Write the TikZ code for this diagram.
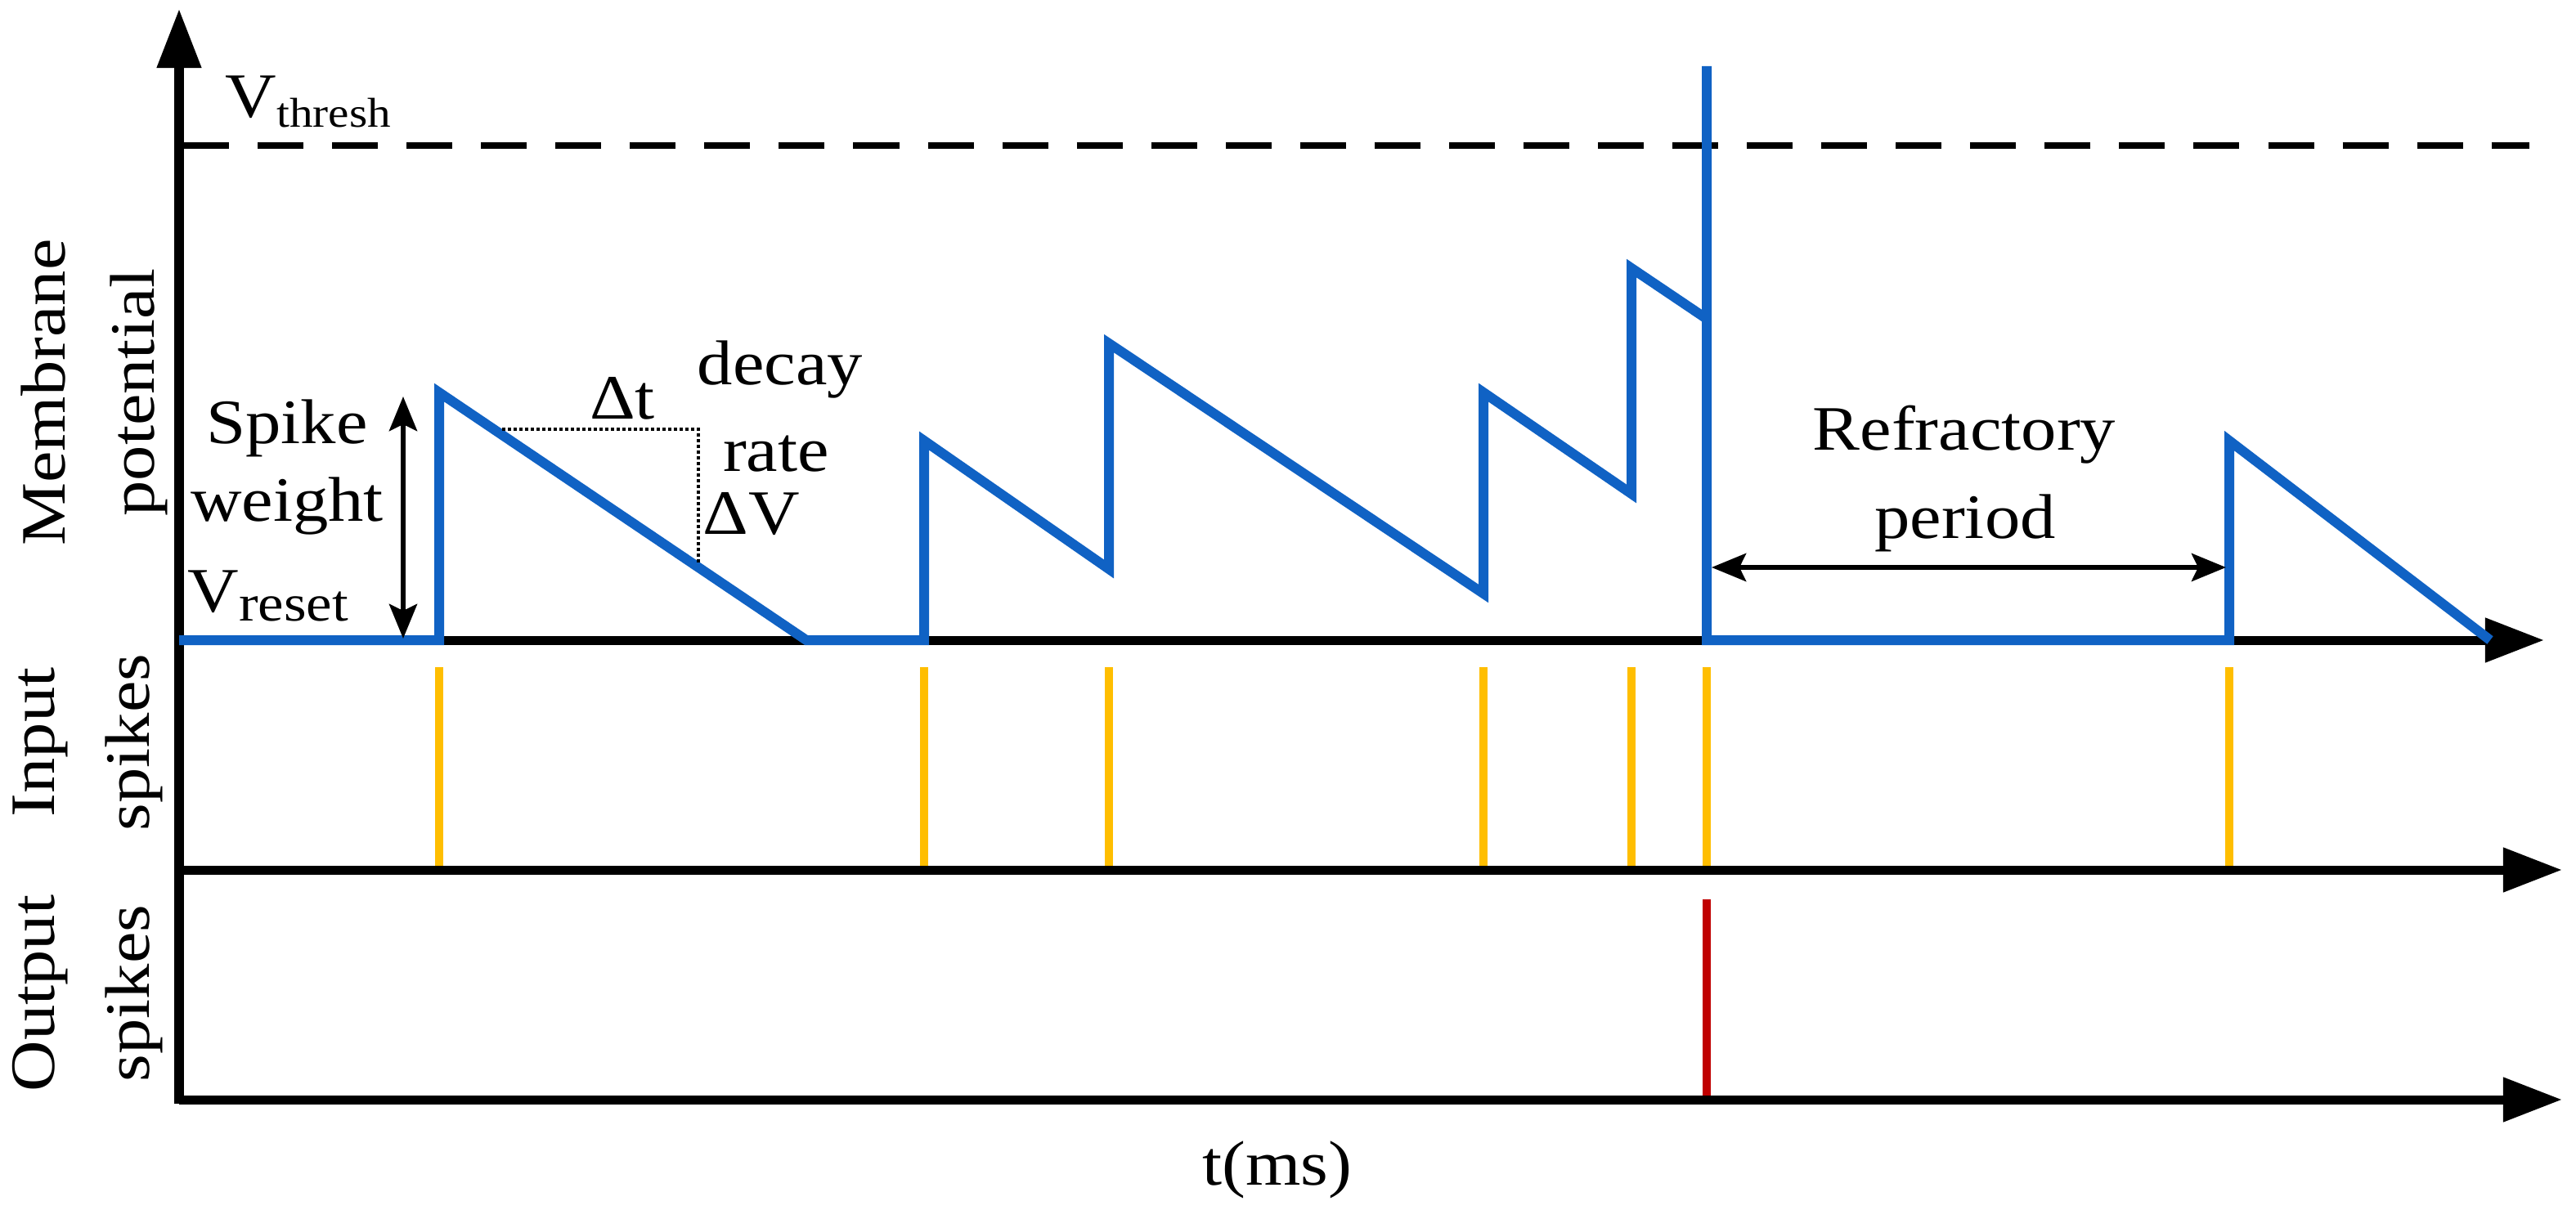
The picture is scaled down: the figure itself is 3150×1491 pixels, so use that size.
\documentclass[tikz,border=0pt]{standalone}
\usepackage{fontspec}
\setmainfont{Liberation Serif}[FakeStretch=1.12]
\usetikzlibrary{arrows.meta}
\definecolor{vblue}{RGB}{16,98,196}
\definecolor{spkyel}{RGB}{255,190,0}
\definecolor{spkred}{RGB}{192,0,0}
\begin{document}
\begin{tikzpicture}[x=0.01cm,y=-0.01cm,
  txt/.style={font=\fontsize{22}{26}\selectfont, inner sep=0pt, anchor=base},
  rtxt/.style={txt, rotate=90},
  axisline/.style={line width=0.11cm, -{Triangle[length=0.72cm,width=0.52cm]}},
  potline/.style={draw=vblue, line width=0.12cm, line join=miter},
  inspike/.style={draw=spkyel, line width=0.10cm},
  outspike/.style={draw=spkred, line width=0.10cm},
  thinarrow/.style={line width=0.06cm, {Stealth[length=0.42cm,width=0.34cm,inset=0.08cm]}-{Stealth[length=0.42cm,width=0.34cm,inset=0.08cm]}},
  guide/.style={line width=0.04cm, dash pattern=on 0.035cm off 0.035cm},
  threshline/.style={line width=0.08cm, dash pattern=on 0.56cm off 0.35cm}
]
\useasboundingbox (0,0) rectangle (3150,1491);
% axes coordinates
\coordinate (O) at (219,1345);
\coordinate (Ob) at (219,1350);
\coordinate (Ytip) at (219,11);
\coordinate (A1s) at (219,783);
\coordinate (A1e) at (3111,783);
\coordinate (A2s) at (219,1064);
\coordinate (A2e) at (3133,1064);
\coordinate (A3e) at (3133,1345);
\coordinate (T1) at (224,178);
\coordinate (T2) at (3093,178);

% threshold
\draw[threshline] (T1) -- (T2);

% input spikes
\foreach \x in {537,1130,1356,1814,1995,2087,2726}
  \draw[inspike] (\x,816) -- (\x,1064);
% output spike
\coordinate (R1) at (2087,1100);
\coordinate (R2) at (2087,1345);
\draw[outspike] (R1) -- (R2);

% axes
\draw[axisline] (A1s) -- (A1e);
\draw[axisline] (A2s) -- (A2e);
\draw[axisline] (O) -- (A3e);
\draw[axisline] (Ob) -- (Ytip);

% membrane potential
\draw[potline] (219,783) -- (537,783) -- (537,480) -- (986,783) -- (1130,783)
  -- (1130,539) -- (1356,696) -- (1356,420) -- (1814,726) -- (1814,480)
  -- (1995,604) -- (1995,328) -- (2087,390) -- (2087,81) -- (2087,783)
  -- (2726,783) -- (2726,539) -- (3045,783);

% decay rate guide
\coordinate (G1) at (614,525);
\coordinate (G2) at (854,525);
\coordinate (G3) at (854,690);
\draw[guide] (G1) -- (G2) -- (G3);

% spike weight arrow
\coordinate (W1) at (493,485);
\coordinate (W2) at (493,781);
\draw[thinarrow] (W1) -- (W2);

% refractory arrow
\coordinate (F1) at (2093,694);
\coordinate (F2) at (2722,694);
\draw[thinarrow] (F1) -- (F2);

% labels
\node[txt, anchor=base west] (vth) at (275,144) {V\raisebox{-0.11cm}{\fontsize{14.5}{15}\selectfont thresh}};
\node[txt] (spike) at (351,542) {Spike};
\node[txt] (weight) at (351,637) {weight};
\node[txt, anchor=base west] (vreset) at (229,748) {V\raisebox{-0.11cm}{\fontsize{18}{19}\selectfont reset}};
\node[txt] (dt) at (761,512) {Δt};
\node[txt] (decay) at (954,470) {decay};
\node[txt] (rate) at (949,577) {rate};
\node[txt] (dv) at (919,653) {ΔV};
\node[txt] (refr) at (2402,550) {Refractory};
\node[txt] (period) at (2403,658) {period};
\node[txt] (tms) at (1562,1449) {t(ms)};
\node[rtxt] (memb) at (80,480) {Membrane};
\node[rtxt] (pot) at (188,480) {potential};
\node[rtxt] (inp) at (66,908) {Input};
\node[rtxt] (insp) at (182,908) {spikes};
\node[rtxt] (outp) at (66,1215) {Output};
\node[rtxt] (outsp) at (182,1215) {spikes};
\end{tikzpicture}
\end{document}
